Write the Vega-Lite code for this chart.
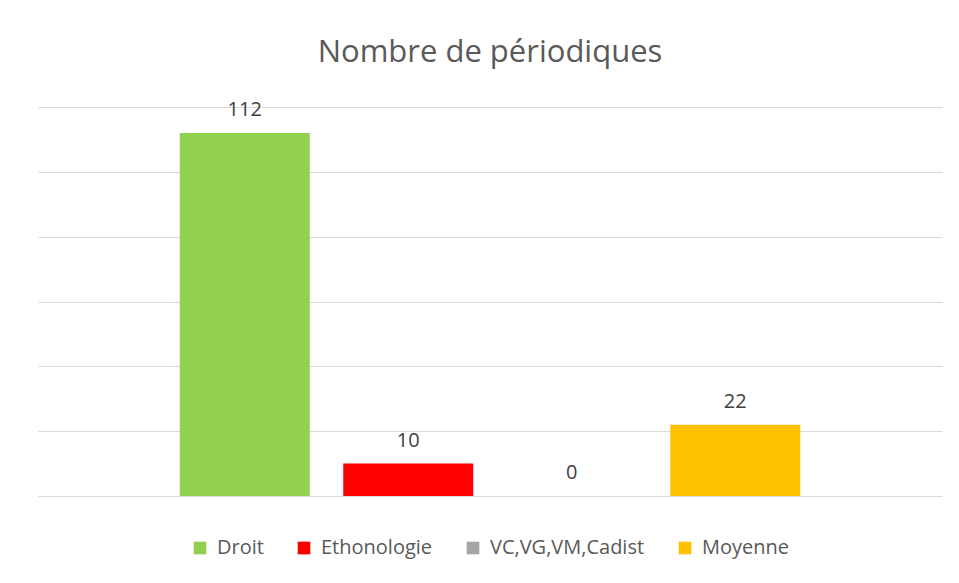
{
  "$schema": "https://vega.github.io/schema/vega-lite/v6.json",
  "width": 904,
  "height": 389,
  "autosize": {"type": "none"},
  "padding": {"left": 38, "top": 107, "right": 17, "bottom": 87},
  "background": "white",
  "title": {
    "text": "Nombre de périodiques",
    "font": "Open Sans",
    "fontSize": 31,
    "fontWeight": "normal",
    "color": "#595959",
    "anchor": "middle",
    "offset": 31
  },
  "data": {
    "values": [
      {"serie": "Droit", "n": 112},
      {"serie": "Ethonologie", "n": 10},
      {"serie": "VC,VG,VM,Cadist", "n": 0},
      {"serie": "Moyenne", "n": 22}
    ]
  },
  "encoding": {
    "x": {
      "field": "serie",
      "type": "nominal",
      "sort": null,
      "axis": null,
      "scale": {"paddingInner": 0.205, "paddingOuter": 0.867}
    },
    "y": {
      "field": "n",
      "type": "quantitative",
      "scale": {"domain": [0, 120], "nice": false},
      "axis": {
        "values": [0, 20, 40, 60, 80, 100, 120],
        "grid": true,
        "gridColor": "#d9d9d9",
        "gridWidth": 1,
        "domain": false,
        "ticks": false,
        "labels": false,
        "title": null
      }
    }
  },
  "layer": [
    {
      "mark": {"type": "bar"},
      "encoding": {
        "color": {
          "field": "serie",
          "type": "nominal",
          "sort": null,
          "scale": {
            "domain": ["Droit", "Ethonologie", "VC,VG,VM,Cadist", "Moyenne"],
            "range": ["#92D050", "#FF0000", "#A5A5A5", "#FFC000"]
          },
          "legend": {
            "orient": "bottom",
            "direction": "horizontal",
            "title": null,
            "symbolType": "square",
            "symbolSize": 160,
            "symbolStrokeWidth": 0,
            "labelFont": "Open Sans",
            "labelFontSize": 20,
            "labelColor": "#595959",
            "labelOffset": 7,
            "columnPadding": 30,
            "offset": 42
          }
        }
      }
    },
    {
      "mark": {
        "type": "text",
        "dy": -17,
        "baseline": "alphabetic",
        "font": "Open Sans",
        "fontSize": 20,
        "color": "#404040"
      },
      "encoding": {"text": {"field": "n", "type": "quantitative"}}
    }
  ],
  "config": {
    "view": {"stroke": null},
    "legend": {"layout": {"bottom": {"anchor": "middle"}}}
  }
}
